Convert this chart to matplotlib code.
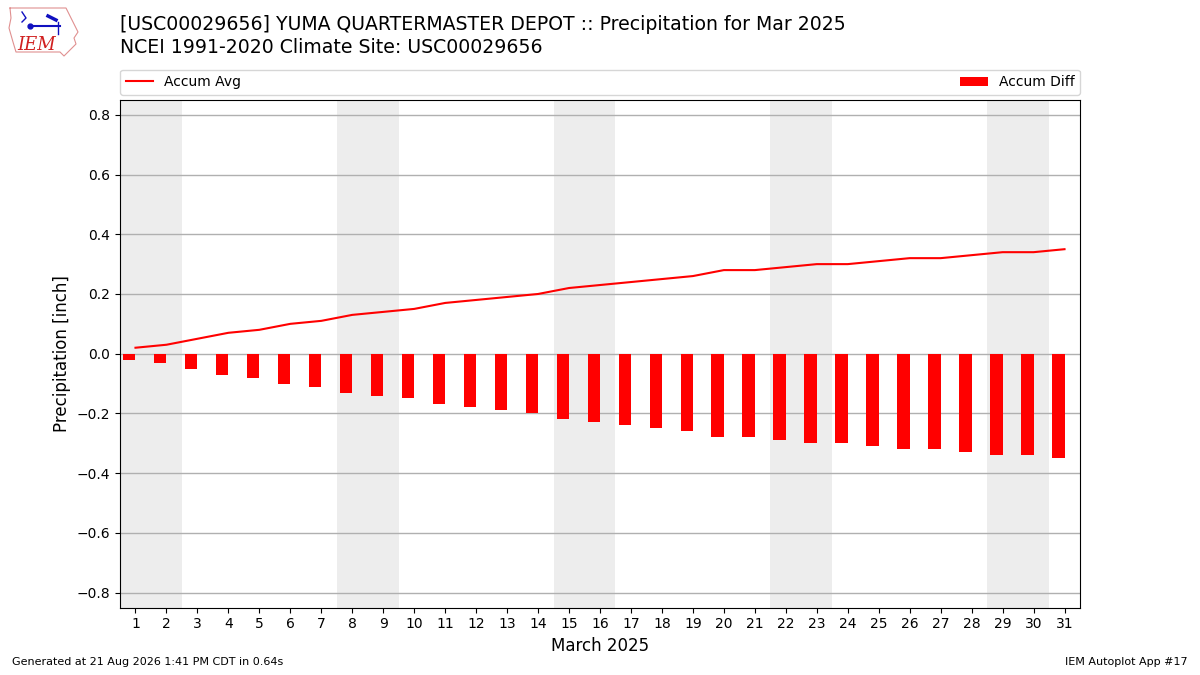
import matplotlib
matplotlib.use("Agg")
import matplotlib.pyplot as plt
import numpy as np

# ------------------------------------------------------------------
# Data (March 2025, Yuma Quartermaster Depot)
# ------------------------------------------------------------------
days = list(range(1, 32))
accum_avg = [0.02, 0.03, 0.05, 0.07, 0.08, 0.10, 0.11, 0.13, 0.14, 0.15,
             0.17, 0.18, 0.19, 0.20, 0.22, 0.23, 0.24, 0.25, 0.26, 0.28,
             0.28, 0.29, 0.30, 0.30, 0.31, 0.32, 0.32, 0.33, 0.34, 0.34,
             0.35]
accum_diff = [-0.02, -0.03, -0.05, -0.07, -0.08, -0.10, -0.11, -0.13, -0.14,
              -0.15, -0.17, -0.18, -0.19, -0.20, -0.22, -0.23, -0.24, -0.25,
              -0.26, -0.28, -0.28, -0.29, -0.30, -0.30, -0.31, -0.32, -0.32,
              -0.33, -0.34, -0.34, -0.35]
weekends = [(1, 2), (8, 9), (15, 16), (22, 23), (29, 30)]
yticks = [-0.8, -0.6, -0.4, -0.2, 0.0, 0.2, 0.4, 0.6, 0.8]

title1 = "[USC00029656] YUMA QUARTERMASTER DEPOT :: Precipitation for Mar 2025"
title2 = "NCEI 1991-2020 Climate Site: USC00029656"
footer_left = "Generated at 21 Aug 2026 1:41 PM CDT in 0.64s"
footer_right = "IEM Autoplot App #17"

#------------------------------------------------------------------------
fig = plt.figure(figsize=(12, 6.75), dpi=100)
ax = fig.add_axes([0.1, 0.1, 0.8, 0.752])

# weekend shading
for (d0, d1) in weekends:
    ax.axvspan(d0 - 0.5, d1 + 0.5, color='#ededed', zorder=0, lw=0)

x = np.array(days)
ax.bar(x - 0.4, accum_diff, width=0.4, align='edge', color='r',
       label='Accum Diff', zorder=3)
ax.plot(x, accum_avg, color='r', lw=1.5, label='Accum Avg', zorder=4)

ax.set_xlim(0.5, 31.5)
ax.set_ylim(-0.85, 0.85)
ax.set_xticks(days)
ax.set_yticks(yticks)
ax.yaxis.grid(True, color='#b0b0b0', lw=1, zorder=1)
ax.set_axisbelow(True)
ax.tick_params(labelsize=10)
ax.set_xlabel('March 2025', fontsize=12)
ax.set_ylabel('Precipitation [inch]', fontsize=12)

ax.legend(loc='lower left', bbox_to_anchor=(0, 1.01, 1, 0.05),
          mode='expand', ncol=2, fontsize=10, borderaxespad=0)

#----------------------------
# Titles and footer
#----------------------------
fig.text(0.1, 0.963, title1, fontsize=13.6, va='center')
fig.text(0.1, 0.929, title2, fontsize=13.6, va='center')
fig.text(0.01, 0.015, footer_left, fontsize=8)
fig.text(0.99, 0.015, footer_right, fontsize=8, ha='right')

#----------------------------
# Rough stand-in for the IEM logo (data coords = pixels)
#----------------------------
lax = fig.add_axes([0, 1 - 65 / 675., 90 / 1200., 65 / 675.])
lax.set_xlim(0, 90)
lax.set_ylim(65, 0)
lax.axis('off')
outline = [(10, 8), (66, 8), (70, 16), (74, 24), (78, 32), (74, 38),
           (76, 44), (70, 50), (64, 56), (60, 52), (16, 52), (13, 42),
           (9, 28), (11, 18), (10, 8)]
ox, oy = zip(*outline)
lax.plot(ox, oy, color='#e09090', lw=0.8)
lax.plot([30, 60], [26, 26], color='#1010c0', lw=1.5)
lax.plot([30], [26], 'o', color='#1010c0', ms=3.5)
lax.plot([22, 26, 22], [12, 18, 22], color='#1010c0', lw=1)
lax.plot([48, 56], [16, 20], color='#1010c0', lw=2.5)
lax.plot([58, 58], [22, 34], color='#1010c0', lw=1)
lax.text(37, 45, 'IEM', color='#d02020', fontsize=13, family='serif',
         style='italic', ha='center', va='center')

fig.savefig('out.png', dpi=100)
